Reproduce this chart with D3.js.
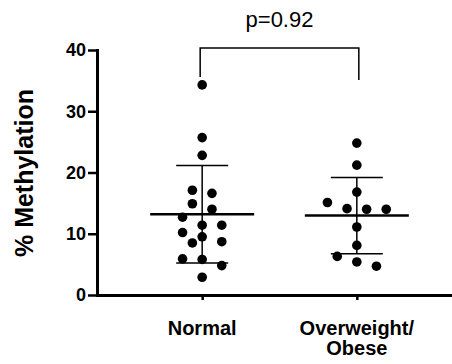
<!DOCTYPE html>
<html>
<head>
<meta charset="utf-8">
<script src="https://cdn.jsdelivr.net/npm/d3@7/dist/d3.min.js"></script>
<style>
  body { margin: 0; background: #fff; }
  text { font-family: "Liberation Sans", Arial, sans-serif; fill: #000; }
</style>
</head>
<body>
<div id="chart"></div>
<script>
// data
const categories = ['Normal', 'Overweight/Obese'];
const categoryLabels = [['Normal'], ['Overweight/', 'Obese']];
const normalValues = [34.3, 25.7, 22.8, 17.1, 16.6, 14.9, 14.0, 12.7, 11.4, 11.4, 10.2, 9.5, 8.7, 8.5, 5.9, 5.8, 4.8, 2.9];
const overweightValues = [24.8, 21.2, 16.8, 15.1, 14.1, 14.0, 14.0, 11.1, 8.1, 6.3, 5.4, 4.7];
const yTicks = [0, 10, 20, 30, 40];
const pLabel = 'p=0.92';
const yLabel = '% Methylation';

const groups = [
  { name: categories[0], values: normalValues },
  { name: categories[1], values: overweightValues }
];

const width = 452;
const height = 364;
const plotLeft = 97, plotBottom = 295, plotTop = 50;
const r = 4.8;
const slot = 9.8;   // horizontal step of the scatter columns

const svg = d3.select('#chart')
  .append('svg')
  .attr('width', width)
  .attr('height', height);

const y = d3.scaleLinear().domain([0, 40]).range([plotBottom, plotTop]);
const x = d3.scalePoint().domain(categories).range([plotLeft, 462]).padding(0.68);

// simple column scatter: points close in value share a row, rows are centred
// and nudged sideways when they would touch a point already placed
function scatter(values) {
  const sorted = values.slice().sort((a, b) => b - a);
  const placed = [];
  let i = 0;
  while (i < sorted.length) {
    const anchor = y(sorted[i]);
    const row = [];
    while (i < sorted.length && y(sorted[i]) - anchor < 10) {
      row.push(sorted[i]);
      i++;
    }
    const base = row.map((v, k) => 2 * k - (row.length - 1));
    const shifts = [0, -1, 1, -2, 2, -3, 3, -4, 4];
    for (const s of shifts) {
      const cand = row.map((v, k) => ({ v, col: base[k] + s }));
      const hit = cand.some(c => placed.some(p => {
        const dx = (c.col - p.col) * slot;
        const dy = y(c.v) - y(p.v);
        return Math.sqrt(dx * dx + dy * dy) < 10.5;
      }));
      if (!hit) { placed.push(...cand); break; }
    }
  }
  return placed;
}

// axes
const yAxis = svg.append('g')
  .attr('transform', `translate(${plotLeft},0)`)
  .call(d3.axisLeft(y).tickValues(yTicks).tickSize(9).tickSizeOuter(0).tickPadding(2));
yAxis.select('.domain').attr('stroke', '#000').attr('stroke-width', 3).attr('stroke-linecap', 'square');
yAxis.selectAll('.tick line').attr('stroke', '#000').attr('stroke-width', 2.5);
yAxis.selectAll('.tick text')
  .attr('font-size', 18)
  .attr('font-weight', 'bold')
  .attr('font-family', '"Liberation Sans", Arial, sans-serif');

const xAxis = svg.append('g')
  .attr('transform', `translate(0,${plotBottom})`)
  .call(d3.axisBottom(x).tickSize(5).tickSizeOuter(0).tickFormat(''));
xAxis.select('.domain').attr('stroke', '#000').attr('stroke-width', 3).attr('stroke-linecap', 'square');
xAxis.selectAll('.tick line').attr('stroke', '#000').attr('stroke-width', 2.5);

// category labels
groups.forEach((g, gi) => {
  const t = svg.append('text')
    .attr('x', x(g.name))
    .attr('y', 335)
    .attr('text-anchor', 'middle')
    .attr('font-size', 20)
    .attr('font-weight', 'bold');
  categoryLabels[gi].forEach((line, li) => {
    t.append('tspan')
      .attr('x', x(g.name))
      .attr('dy', li === 0 ? 0 : 20)
      .text(line);
  });
});

// y label
svg.append('text')
  .attr('transform', 'translate(33,173) rotate(-90)')
  .attr('text-anchor', 'middle')
  .attr('font-size', 25)
  .attr('font-weight', 'bold')
  .text(yLabel);

// mean and SD
groups.forEach(g => {
  const cx = x(g.name);
  const m = d3.mean(g.values);
  const sd = d3.deviation(g.values);
  const lo = m - sd, hi = m + sd;

  svg.append('line')
    .attr('x1', cx).attr('x2', cx)
    .attr('y1', y(hi)).attr('y2', y(lo))
    .attr('stroke', '#000').attr('stroke-width', 1.5);

  [hi, lo].forEach(v => {
    svg.append('line')
      .attr('x1', cx - 26).attr('x2', cx + 26)
      .attr('y1', y(v)).attr('y2', y(v))
      .attr('stroke', '#000').attr('stroke-width', 1.5);
  });

  svg.append('line')
    .attr('x1', cx - 52).attr('x2', cx + 52)
    .attr('y1', y(m)).attr('y2', y(m))
    .attr('stroke', '#000').attr('stroke-width', 2.5);

  svg.append('g')
    .selectAll('circle')
    .data(scatter(g.values))
    .enter()
    .append('circle')
    .attr('cx', d => cx + d.col * slot)
    .attr('cy', d => y(d.v))
    .attr('r', r)
    .attr('fill', '#000');
});

// significance bracket
const bx0 = x(categories[0]) - 2;
const bx1 = x(categories[1]) + 2;
const bTop = y(40) - 2;
svg.append('path')
  .attr('d', `M${bx0},${bTop + 29}V${bTop}H${bx1}V${bTop + 32}`)
  .attr('fill', 'none')
  .attr('stroke', '#000')
  .attr('stroke-width', 1.5);

svg.append('text')
  .attr('x', (bx0 + bx1) / 2)
  .attr('y', 27)
  .attr('text-anchor', 'middle')
  .attr('font-size', 22)
  .text(pLabel);
</script>
</body>
</html>
